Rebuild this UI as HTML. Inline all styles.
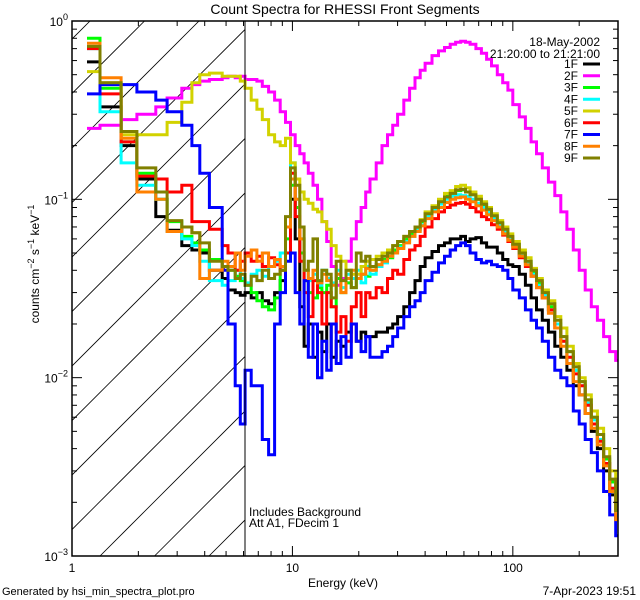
<!DOCTYPE html>
<html><head><meta charset="utf-8">
<style>
html,body{margin:0;padding:0;background:#fff;}
svg{display:block;font-family:"Liberation Sans",sans-serif;}
</style></head>
<body>
<svg id="chart" width="640" height="600" viewBox="0 0 640 600" xmlns="http://www.w3.org/2000/svg">
<rect x="0" y="0" width="640" height="600" fill="#fff"/>
<text x="345" y="14" font-size="14" text-anchor="middle">Count Spectra for RHESSI Front Segments</text>
<g id="hatch"></g>
<g id="series"></g>
<g id="axes"></g>
<line x1="245" y1="21" x2="245" y2="556" stroke="#000" stroke-width="1"/>
<text x="249" y="516" font-size="12">Includes Background</text>
<text x="249" y="527" font-size="12">Att A1, FDecim  1</text>
<text x="600" y="46" font-size="12" text-anchor="end">18-May-2002</text>
<text x="600" y="58" font-size="12" text-anchor="end">21:20:00 to 21:21:00</text>
<g id="legend"></g>
<text x="23" y="0" font-size="12" text-anchor="middle" transform="translate(39,287) rotate(-90)">counts cm<tspan dy="-5" font-size="9">−2</tspan><tspan dy="5"> s</tspan><tspan dy="-5" font-size="9">−1</tspan><tspan dy="5"> keV</tspan><tspan dy="-5" font-size="9">−1</tspan></text>
<text x="343" y="587" font-size="12" text-anchor="middle">Energy (keV)</text>
<text x="2" y="595" font-size="11">Generated by hsi_min_spectra_plot.pro</text>
<text x="636" y="595" font-size="12" text-anchor="end">7-Apr-2023 19:51</text>
</svg>
<script>
const edges = [1.17,1.34,1.67,1.97,2.4,2.7,3.15,3.5,3.8,4.2,4.8,5.1,5.5,5.8,6.1,6.5,6.9,7.3,7.8,8.3,8.8,9.3,9.8,10.3,10.8,11.3,11.8,12.4,13,13.6,14.3,15,15.8,16.6,17.5,18.5,19.5,20.5,21.5,22.5,24,25.5,27,28.5,30,32,34,36,38,40,43,46,49,52,55,58,61,64,68,72,76,80,85,90,95,100,107,114,121,128,136,145,155,165,176,188,200,213,227,242,258,275,293,300];
const seriesNames = ["1F","2F","3F","4F","5F","6F","7F","8F","9F"];
const seriesColors = ["#000000","#ff00ff","#00ff00","#00ffff","#d2d200","#ff0000","#0000ff","#ff8000","#808000"];
const s1F = [0.59,0.33,0.2,0.13,0.08,0.067,0.055,0.052,0.05,0.04,
 0.036,0.031,0.03,0.029,0.03,0.028,0.03,0.027,0.026,0.03,
 0.035,0.05,0.1,0.06,0.025,0.015,0.02,0.013,0.018,0.014,
 0.02,0.013,0.016,0.015,0.018,0.02,0.016,0.018,0.017,0.017,
 0.018,0.018,0.019,0.02,0.022,0.025,0.03,0.035,0.042,0.047,
 0.051,0.055,0.057,0.06,0.06,0.062,0.058,0.06,0.061,0.057,
 0.054,0.054,0.05,0.046,0.043,0.042,0.038,0.033,0.028,0.024,
 0.021,0.018,0.015,0.013,0.011,0.009,0.008,0.0063,0.005,0.004,
 0.003,0.0022,0.0016];
const s2F = [0.25,0.26,0.28,0.30,0.33,0.37,0.42,0.44,0.46,0.47,
 0.48,0.49,0.48,0.49,0.47,0.47,0.46,0.43,0.40,0.36,
 0.31,0.27,0.23,0.2,0.18,0.16,0.14,0.12,0.1,0.075,
 0.058,0.042,0.033,0.036,0.045,0.06,0.075,0.09,0.11,0.13,
 0.16,0.2,0.23,0.26,0.3,0.36,0.42,0.48,0.53,0.58,
 0.64,0.68,0.71,0.74,0.76,0.77,0.76,0.74,0.7,0.66,
 0.61,0.56,0.5,0.45,0.41,0.34,0.29,0.25,0.21,0.18,
 0.15,0.125,0.105,0.085,0.068,0.052,0.04,0.031,0.025,0.021,
 0.017,0.014,0.0125];
const s3F = [0.8,0.42,0.21,0.14,0.1,0.075,0.062,0.057,0.052,0.046,
 0.042,0.04,0.037,0.035,0.033,0.03,0.027,0.025,0.024,0.028,
 0.04,0.06,0.12,0.09,0.05,0.035,0.03,0.028,0.032,0.03,
 0.033,0.025,0.036,0.03,0.034,0.032,0.036,0.038,0.037,0.04,
 0.043,0.046,0.047,0.052,0.055,0.06,0.064,0.068,0.075,0.083,
 0.09,0.096,0.104,0.108,0.112,0.113,0.11,0.106,0.1,0.092,
 0.086,0.079,0.073,0.067,0.061,0.056,0.05,0.045,0.039,0.034,
 0.029,0.025,0.02,0.017,0.014,0.011,0.0095,0.0075,0.006,0.0048,
 0.0035,0.0026,0.0019];
const s4F = [0.7,0.31,0.16,0.12,0.1,0.066,0.06,0.055,0.045,0.035,
 0.033,0.035,0.04,0.036,0.034,0.038,0.04,0.037,0.042,0.045,
 0.05,0.07,0.16,0.1,0.06,0.04,0.035,0.038,0.033,0.04,
 0.036,0.034,0.04,0.032,0.038,0.036,0.04,0.034,0.042,0.038,
 0.042,0.044,0.048,0.05,0.054,0.058,0.062,0.067,0.072,0.08,
 0.088,0.094,0.1,0.104,0.106,0.105,0.104,0.1,0.095,0.09,
 0.085,0.078,0.072,0.066,0.06,0.055,0.049,0.044,0.038,0.033,
 0.029,0.024,0.02,0.016,0.013,0.011,0.009,0.0072,0.0058,0.0045,
 0.0033,0.0024,0.0017];
const s5F = [0.52,0.45,0.23,0.23,0.23,0.27,0.35,0.45,0.5,0.51,
 0.49,0.49,0.49,0.46,0.42,0.36,0.32,0.28,0.23,0.21,
 0.2,0.22,0.16,0.13,0.11,0.1,0.095,0.088,0.085,0.075,
 0.068,0.055,0.048,0.045,0.04,0.038,0.038,0.042,0.045,0.046,
 0.048,0.05,0.052,0.055,0.058,0.062,0.066,0.07,0.077,0.085,
 0.092,0.1,0.108,0.112,0.118,0.12,0.116,0.11,0.104,0.097,
 0.09,0.083,0.076,0.07,0.064,0.058,0.052,0.047,0.041,0.036,
 0.031,0.027,0.022,0.019,0.015,0.012,0.01,0.008,0.0065,0.0052,
 0.004,0.003,0.002];
const s6F = [0.7,0.39,0.21,0.135,0.13,0.11,0.12,0.075,0.075,0.068,
 0.055,0.05,0.04,0.045,0.05,0.045,0.048,0.042,0.047,0.043,
 0.04,0.05,0.14,0.08,0.045,0.03,0.022,0.035,0.03,0.02,
 0.03,0.025,0.018,0.022,0.016,0.025,0.03,0.022,0.03,0.028,
 0.032,0.03,0.036,0.04,0.038,0.046,0.052,0.055,0.062,0.07,
 0.078,0.085,0.09,0.093,0.095,0.096,0.094,0.09,0.085,0.08,
 0.077,0.072,0.068,0.063,0.058,0.053,0.047,0.042,0.037,0.032,
 0.028,0.024,0.019,0.016,0.013,0.0105,0.009,0.007,0.0055,0.0044,
 0.0033,0.0024,0.0018];
const s7F = [0.39,0.44,0.44,0.4,0.36,0.31,0.26,0.2,0.14,0.09,
 0.04,0.02,0.009,0.0055,0.011,0.009,0.009,0.0045,0.0037,0.02,
 0.03,0.045,0.05,0.03,0.02,0.035,0.013,0.02,0.01,0.016,
 0.011,0.02,0.012,0.017,0.013,0.02,0.016,0.014,0.017,0.013,
 0.013,0.014,0.015,0.017,0.019,0.022,0.025,0.027,0.03,0.035,
 0.039,0.044,0.048,0.052,0.055,0.057,0.055,0.05,0.046,0.044,
 0.045,0.043,0.042,0.04,0.036,0.031,0.028,0.024,0.021,0.019,
 0.016,0.013,0.011,0.01,0.009,0.0065,0.0055,0.0045,0.0038,0.003,
 0.0023,0.0017,0.0013];
const s8F = [0.75,0.48,0.22,0.11,0.1,0.066,0.07,0.065,0.036,0.04,
 0.045,0.042,0.05,0.04,0.048,0.052,0.045,0.05,0.042,0.046,
 0.042,0.07,0.13,0.1,0.06,0.04,0.036,0.04,0.034,0.038,
 0.035,0.033,0.038,0.03,0.036,0.04,0.036,0.038,0.041,0.04,
 0.043,0.045,0.048,0.05,0.053,0.057,0.062,0.066,0.071,0.078,
 0.085,0.09,0.096,0.1,0.102,0.103,0.1,0.097,0.092,0.087,
 0.082,0.076,0.07,0.064,0.059,0.054,0.048,0.043,0.037,0.032,
 0.028,0.023,0.019,0.015,0.012,0.0095,0.008,0.0063,0.0052,0.0042,
 0.0032,0.0023,0.0016];
const s9F = [0.72,0.45,0.24,0.15,0.11,0.076,0.07,0.065,0.057,0.045,
 0.042,0.04,0.036,0.038,0.033,0.037,0.035,0.04,0.036,0.038,
 0.04,0.08,0.15,0.12,0.07,0.04,0.045,0.06,0.035,0.04,
 0.038,0.028,0.045,0.035,0.04,0.032,0.05,0.045,0.048,0.042,
 0.046,0.048,0.05,0.055,0.058,0.062,0.066,0.07,0.076,0.083,
 0.09,0.097,0.103,0.108,0.113,0.114,0.11,0.106,0.1,0.094,
 0.088,0.081,0.074,0.068,0.062,0.056,0.05,0.045,0.04,0.035,
 0.03,0.026,0.021,0.017,0.014,0.0115,0.0095,0.0075,0.006,0.0048,
 0.0036,0.0027,0.0018];
const seriesValues = [s1F,s2F,s3F,s4F,s5F,s6F,s7F,s8F,s9F];
const xMajorTicks = [1,10,100];
const xMajorLabels = ["1","10","100"];
const yMajorTicks = [1,0.1,0.01,0.001];
const yMajorExps = ["0","−1","−2","−3"];

const NS = "http://www.w3.org/2000/svg";
const L = 72, R = 618, T = 21, B = 556;
const xMin = 1, xMax = 300, yMin = 0.001, yMax = 1;
function xs(e){ return L + (Math.log10(e) - Math.log10(xMin)) / (Math.log10(xMax) - Math.log10(xMin)) * (R - L); }
function ys(v){ return B - (Math.log10(v) - Math.log10(yMin)) / (Math.log10(yMax) - Math.log10(yMin)) * (B - T); }
function mk(tag, attrs, parent){ const el = document.createElementNS(NS, tag); for (const k in attrs) el.setAttribute(k, attrs[k]); parent.appendChild(el); return el; }

const svg = document.getElementById('chart');
const defs = mk('defs', {}, svg);
const cp = mk('clipPath', {id:'plotclip'}, defs);
mk('rect', {x:L, y:T, width:R-L, height:B-T}, cp);
const cph = mk('clipPath', {id:'hatchclip'}, defs);
mk('rect', {x:L, y:T, width:xs(6.1)-L, height:B-T}, cph);

// hatching
const hatch = document.getElementById('hatch');
hatch.setAttribute('clip-path', 'url(#hatchclip)');
for (let x0 = 100 - 54.5 * 12; x0 < 260; x0 += 54.5) {
  const hl = mk('line', {x1:x0, y1:B, x2:x0 + 600, y2:B - 600, stroke:'#000', 'stroke-width':0.8}, hatch);
  
  
}

// series
const sg = document.getElementById('series');
sg.setAttribute('clip-path', 'url(#plotclip)');
seriesValues.forEach((vals, i) => {
  let d = '';
  vals.forEach((v, j) => {
    const x1 = xs(edges[j]), x2 = xs(edges[j + 1]), y = ys(v);
    d += (j === 0 ? 'M' : 'L') + x1.toFixed(1) + ',' + y.toFixed(1) + 'L' + x2.toFixed(1) + ',' + y.toFixed(1);
  });
  const p = mk('path', {d:d, fill:'none', stroke:seriesColors[i], 'stroke-width':3, 'stroke-linejoin':'miter'}, sg);
  
  
});

// axes
const ax = document.getElementById('axes');
const frame = mk('rect', {x:L, y:T, width:R-L, height:B-T, fill:'none', stroke:'#000', 'stroke-width':1.5}, ax);


for (let dec = 1; dec <= 100; dec *= 10) {
  for (let m = 1; m <= 9; m++) {
    const e = dec * m;
    if (e > xMax) break;
    const x = xs(e);
    const len = m === 1 ? 10 : 5;
    const tb = mk('line', {x1:x, y1:B, x2:x, y2:B - len, stroke:'#000', 'stroke-width':1}, ax);
    
    
    const tt = mk('line', {x1:x, y1:T, x2:x, y2:T + len, stroke:'#000', 'stroke-width':1}, ax);
    
    
  }
}
xMajorTicks.forEach((e, i) => {
  const t = mk('text', {x:xs(e), y:B + 16, 'font-size':12, 'text-anchor':'middle'}, ax);
  t.textContent = xMajorLabels[i];
  
  
});
for (let dec = 0.001; dec < 1.001; dec *= 10) {
  for (let m = 1; m <= 9; m++) {
    const v = dec * m;
    if (v > yMax * 1.0001) break;
    const y = ys(v);
    const len = m === 1 ? 10 : 5;
    const tl = mk('line', {x1:L, y1:y, x2:L + len, y2:y, stroke:'#000', 'stroke-width':1}, ax);
    
    
    const tr = mk('line', {x1:R, y1:y, x2:R - len, y2:y, stroke:'#000', 'stroke-width':1}, ax);
    
    
  }
}
yMajorTicks.forEach((v, i) => {
  const t = mk('text', {x:L - 4, y:ys(v) + 5, 'font-size':12, 'text-anchor':'end'}, ax);
  const a = mk('tspan', {}, t); a.textContent = '10';
  const b = mk('tspan', {dy:-6, 'font-size':9}, t); b.textContent = yMajorExps[i];
  
  
});

// legend
const lg = document.getElementById('legend');
seriesNames.forEach((n, i) => {
  const y = 64 + i * 11.75;
  const t = mk('text', {x:578, y:y + 4, 'font-size':12, 'text-anchor':'end'}, lg);
  t.textContent = n;
  
  
  const l = mk('line', {x1:583, y1:y, x2:600, y2:y, stroke:seriesColors[i], 'stroke-width':3}, lg);
  
  
});
</script>
</body></html>
